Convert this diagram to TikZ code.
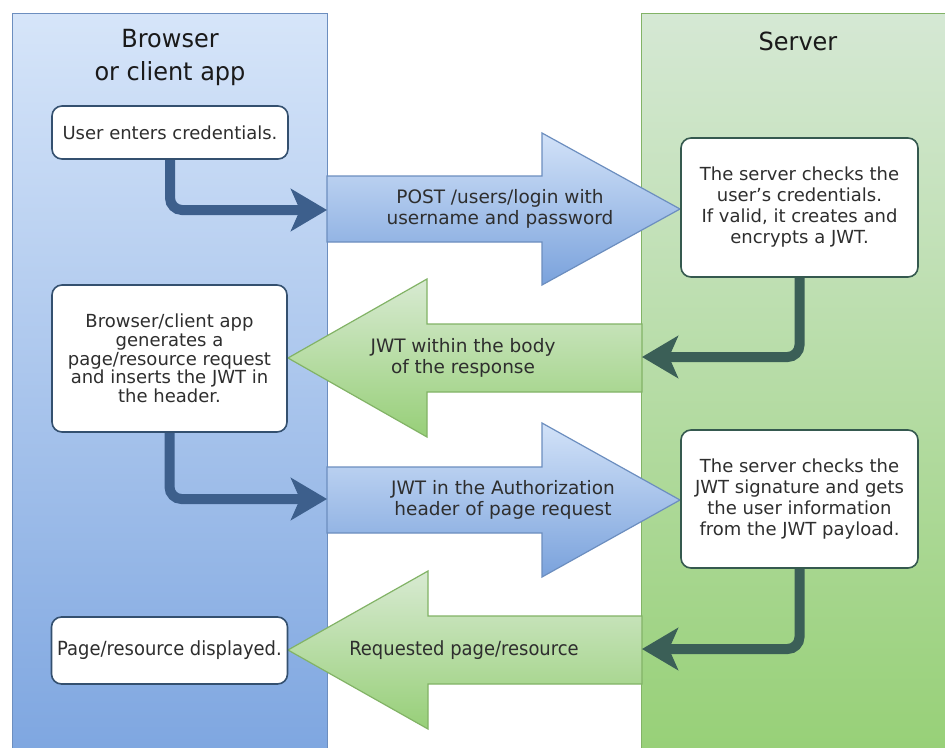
\documentclass[tikz,border=0pt]{standalone}
\usepackage{fontspec}
\setmainfont{DejaVu Sans}
\newfontfamily\condfont[FakeStretch=0.92]{DejaVu Sans}
\newfontfamily\titlefont[FakeStretch=0.96]{DejaVu Sans}
\usetikzlibrary{arrows.meta}
\pgfdeclarelayer{back}
\pgfdeclarelayer{mid}
\pgfsetlayers{back,mid,main}
\definecolor{bluetop}{HTML}{D6E5F9}
\definecolor{bluebot}{HTML}{7EA6E0}
\definecolor{bluestroke}{HTML}{6C8EBF}
\definecolor{greentop}{HTML}{D5E8D4}
\definecolor{greenbot}{HTML}{97D077}
\definecolor{greenstroke}{HTML}{82B366}
\definecolor{arrowbluetop}{HTML}{D2E2F8}
\definecolor{arrowbluebot}{HTML}{7AA2DC}
\definecolor{arrowgreentop}{HTML}{D8EAD2}
\definecolor{arrowgreenbot}{HTML}{97CF78}
\definecolor{boxblue}{HTML}{34506F}
\definecolor{boxgreen}{HTML}{35594F}
\definecolor{flowbluec}{HTML}{3D5F8C}
\definecolor{flowgreenc}{HTML}{3B5F57}
\definecolor{txt}{HTML}{2E2E2E}
\definecolor{titletxt}{HTML}{1A1A1A}
\tikzset{
  panel/.style={line width=1.4pt, inner sep=0pt},
  titletext/.style={align=center, text=titletxt, font=\titlefont\fontsize{25}{33}\selectfont},
  stepbox/.style={fill=white, rounded corners=10pt, line width=1.6pt, align=center,
    inner sep=0pt, text=txt, font=\fontsize{18}{21}\selectfont},
  clientbox/.style={stepbox, draw=boxblue},
  serverbox/.style={stepbox, draw=boxgreen},
  bluearrow/.style={draw=bluestroke, line width=1.2pt, top color=arrowbluetop, bottom color=arrowbluebot, line join=miter},
  greenarrow/.style={draw=greenstroke, line width=1.2pt, top color=arrowgreentop, bottom color=arrowgreenbot, line join=miter},
  arrowtext/.style={align=center, text=txt, font=\fontsize{18.5}{21.5}\selectfont},
  flowblue/.style={draw=flowbluec, line width=10pt, rounded corners=12pt,
    -{Stealth[length=36pt, width=42pt, inset=9pt]}},
  flowgreen/.style={draw=flowgreenc, line width=10pt, rounded corners=12pt,
    -{Stealth[length=36pt, width=42pt, inset=9pt]}}
}
\begin{document}
\begin{tikzpicture}[x=1pt, y=-1pt]
\useasboundingbox (0,0) rectangle (945,747);
\clip (0,0) rectangle (945,747);

\begin{pgfonlayer}{back}
\fill[white] (0,0) rectangle (945,747);
% panels
\node[panel, draw=bluestroke, top color=bluetop, bottom color=bluebot,
  minimum width=315pt, minimum height=742pt, anchor=north west] (browserpanel) at (12,13) {};
\node[panel, draw=greenstroke, top color=greentop, bottom color=greenbot,
  minimum width=310pt, minimum height=742pt, anchor=north west] (serverpanel) at (641,13) {};

\node[titletext] (browsertitle) at (170,57.5) {Browser\\or client app};
\node[titletext] (servertitle) at (798,41) {Server};

% block arrows
\draw[bluearrow] (327,176) -- (542,176) -- (542,133) -- (680,209) -- (542,285) -- (542,242) -- (327,242) -- cycle;
\draw[greenarrow] (642,324) -- (427,324) -- (427,279) -- (288,358) -- (427,437) -- (427,392) -- (642,392) -- cycle;
\draw[bluearrow] (327,467) -- (542,467) -- (542,423) -- (680,500) -- (542,577) -- (542,533) -- (327,533) -- cycle;
\draw[greenarrow] (642,616) -- (428,616) -- (428,571) -- (288,650) -- (428,729) -- (428,684) -- (642,684) -- cycle;

\node[arrowtext] (posttext) at (500,209) {POST /users/login with\\username and password};
\node[arrowtext] (jwttext) at (463,358) {JWT within the body\\of the response};
\node[arrowtext] (authtext) at (503,500) {JWT in the Authorization\\header of page request};
\node[arrowtext, font=\condfont\fontsize{19.5}{21}\selectfont] (reqtext) at (464,650) {Requested page/resource};
\end{pgfonlayer}

\coordinate (postTail) at (327,210);
\coordinate (jwtTail) at (642,357);
\coordinate (authTail) at (327,499);
\coordinate (reqTail) at (642,649);

% step boxes
\node[clientbox, minimum width=236pt, minimum height=53pt] (enter) at (170,132.5) {User enters credentials.};
\node[serverbox, minimum width=237pt, minimum height=139pt] (check) at (799.5,207.5)
  {The server checks the\\user's credentials.\\If valid, it creates and\\encrypts a JWT.};
\node[clientbox, minimum width=235pt, minimum height=147pt, font=\fontsize{18}{18.7}\selectfont] (request) at (169.5,358.5)
  {Browser/client app\\generates a\\page/resource request\\and inserts the JWT in\\the header.};
\node[serverbox, minimum width=237pt, minimum height=138pt] (verify) at (799.5,499)
  {The server checks the\\JWT signature and gets\\the user information\\from the JWT payload.};
\node[clientbox, minimum width=236pt, minimum height=67pt, font=\condfont\fontsize{19.5}{21}\selectfont] (display) at (169.5,650.5)
  {Page/resource displayed.};

% connectors
\begin{pgfonlayer}{mid}
\draw[flowblue] (enter.south) |- (postTail);
\draw[flowgreen] (check.south) |- (jwtTail);
\draw[flowblue] (request.south) |- (authTail);
\draw[flowgreen] (verify.south) |- (reqTail);
\end{pgfonlayer}
\end{tikzpicture}
\end{document}
